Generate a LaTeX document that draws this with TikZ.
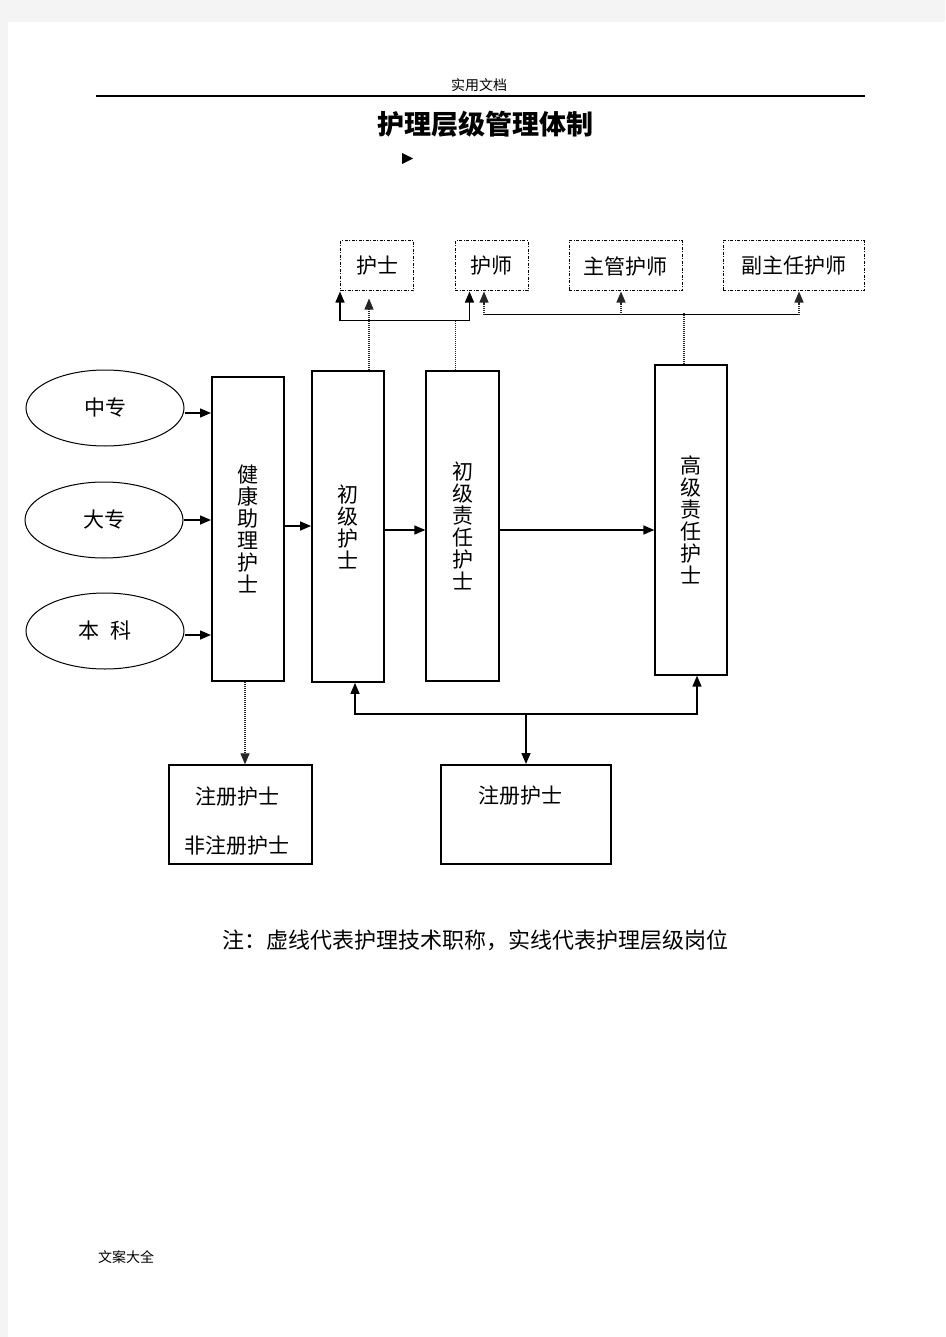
\documentclass[tikz,border=0pt]{standalone}
\usepackage{fontspec}
\usepackage{tikz}
\usetikzlibrary{shapes, calc, arrows.meta}

\newfontfamily\cjk{Noto Sans CJK SC}
\definecolor{pagegray}{RGB}{244,244,244}

\tikzset{
	txt/.style={font=\cjk\fontsize{21}{22}\selectfont, inner sep=0pt, align=center},
	titlebox/.style={draw, rectangle, line width=1pt,
		dash pattern=on 3pt off 1.5pt on 1pt off 1.5pt, minimum height=50pt},
	levelbox/.style={draw, rectangle, line width=1.3pt, minimum width=72pt},
	school/.style={draw, ellipse, line width=1pt, minimum width=158pt, minimum height=76pt},
	flow/.style={line width=1.5pt},
	tech/.style={line width=1.2pt, black!85, dash pattern=on 1pt off 1pt}
}

\begin{document}
\begin{tikzpicture}[x=1pt, y=-1pt, >={Triangle[length=11pt, width=9pt]}]
	\fill[pagegray] (0,0) rectangle (945,1337);
	\fill[white] (8,22) rectangle (945,1337);
	\useasboundingbox (0,0) rectangle (945,1337);

	% header and title
	\node[font=\cjk\fontsize{14}{16}\selectfont] (head) at (479,85) {实用文档};
	\draw[line width=1.2pt] (96,96) -- (865,96);
	\node[font=\cjk\bfseries\fontsize{27}{30}\selectfont] (title) at (485,124) {护理层级管理体制};
	\fill (402,153) -- (402,164) -- (413,158.5) -- cycle;

	% technical titles
	\node[titlebox, txt, minimum width=73pt] (hs)  at (377,266)   {护士};
	\node[titlebox, txt, minimum width=73pt] (hsi) at (491.5,266) {护师};
	\node[titlebox, txt, minimum width=113pt] (zg) at (625.5,266) {主管护师};
	\node[titlebox, txt, minimum width=141pt] (fzr) at (793.5,266) {副主任护师};

	% schooling
	\node[school, txt] (zz) at (105,408) {中专};
	\node[school, txt] (dz) at (104,520) {大专};
	\node[school, txt] (bk) at (105,631) {本\hspace{12pt}科};

	% levels
	\node[levelbox, txt, line width=2pt, minimum height=304pt] (jk) at (248,529)
		{健\\康\\助\\理\\护\\士};
	\node[levelbox, txt, line width=1.8pt, minimum height=311pt] (cj) at (348,526.5)
		{初\\级\\护\\士};
	\node[levelbox, txt, minimum width=73pt, minimum height=310pt] (cjzr) at (462.5,526)
		{初\\级\\责\\任\\护\\士};
	\node[levelbox, txt, minimum height=310pt] (gjzr) at (691,520)
		{高\\级\\责\\任\\护\\士};

	% registration
	\node[draw, rectangle, line width=1.3pt, minimum width=143pt, minimum height=99pt] (zc1) at (240.5,814.5) {};
	\node[txt] (zc1a) at (237,797) {注册护士};
	\node[txt] (zc1b) at (237,846) {非注册护士};
	\node[draw, rectangle, line width=2pt, minimum width=170pt, minimum height=99pt] (zc2) at (526,814.5) {};
	\node[txt] (zc2a) at (520,796) {注册护士};

	% note and footer
	\node[font=\cjk\fontsize{22}{24}\selectfont] (note) at (475,940)
		{注：虚线代表护理技术职称，实线代表护理层级岗位};
	\node[font=\cjk\fontsize{14}{16}\selectfont] (foot) at (126,1257) {文案大全};

	% solid: level path
	\draw[flow, ->] ($(zz.east)+(0,5)$) -- ($(zz.east -| jk.west)+(0,5)$);
	\draw[flow, ->] (dz.east) -- (dz.east -| jk.west);
	\draw[flow, ->] ($(bk.east)+(0,4)$) -- ($(bk.east -| jk.west)+(0,4)$);
	\draw[flow, ->] ($(jk.east)+(0,-3)$) -- ($(cj.west)+(0,-0.5)$);
	\draw[flow, ->] ($(cj.east)+(0,3.5)$) -- ($(cjzr.west)+(0,4)$);
	\draw[flow, ->] ($(cjzr.east)+(0,4)$) -- ($(gjzr.west)+(0,10)$);

	% upper connectors
	\coordinate (hsin) at ($(cj.north)+(21,0)$);
	\draw[tech, ->, shorten >=7pt] (hsin) -- (hsin |- hs.south);
	\coordinate (lowj) at ($(cjzr.north)+(-7,-50)$);
	\draw[tech] ($(cjzr.north)+(-7,0)$) -- (lowj);
	\draw[flow, <->] (hs.south west) |- (lowj) -| ($(hsi.south)+(-22,0)$);

	\coordinate (highj) at ($(gjzr.north)+(-7,-51)$);
	\draw[tech] ($(gjzr.north)+(-7,0)$) -- (highj);
	\coordinate (hsr) at ($(hsi.south)+(-7.5,23)$);
	\coordinate (fzrr) at ($(fzr.south)+(5.5,23)$);
	\draw[flow, line width=1.2pt] (hsr) -- (fzrr);
	\draw[tech, ->] (hsr) -- (hsr |- hsi.south);
	\draw[tech, ->] ($(zg.south)+(-4.5,23)$) -- ($(zg.south)+(-4.5,0)$);
	\draw[tech, ->] (fzrr) -- (fzrr |- fzr.south);

	% lower connectors
	\draw[tech, ->] ($(jk.south)+(-3,0)$) -- ($(zc1.north)+(4.5,0)$);
	\coordinate (midj) at ($(zc2.north)+(0,-50)$);
	\draw[flow, ->] (midj) -- (zc2.north);
	\draw[flow, <->] ($(cj.south)+(7,0)$) |- (midj) -| ($(gjzr.south)+(6,0)$);
\end{tikzpicture}
\end{document}
